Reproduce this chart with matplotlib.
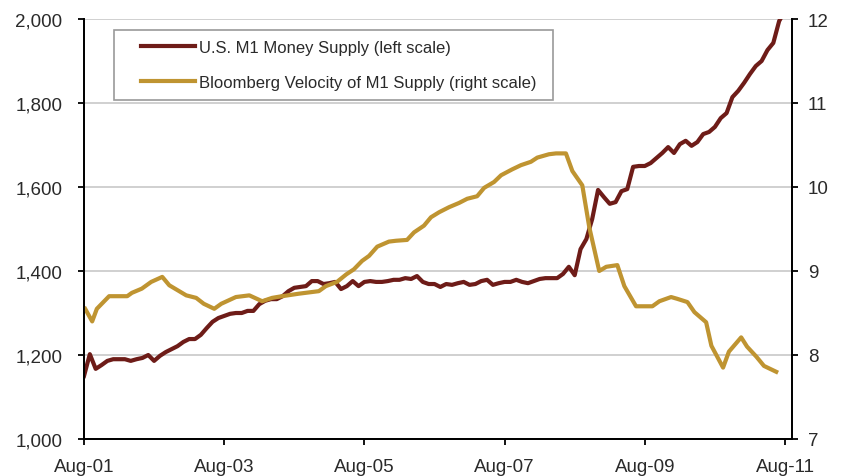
import matplotlib
matplotlib.use("Agg")
import matplotlib.pyplot as plt
import numpy as np
from matplotlib.legend_handler import HandlerLine2D

# months since Aug-01
m1_months = list(range(0, 121))
m1_values = [
    1150, 1202, 1167, 1176, 1186, 1190, 1190, 1190, 1186, 1190,
    1193, 1200, 1186, 1198, 1207, 1214, 1221, 1231, 1238, 1238,
    1248, 1264, 1279, 1288, 1293, 1298, 1300, 1300, 1305, 1305,
    1321, 1329, 1333, 1333, 1340, 1352, 1360, 1362, 1364, 1376,
    1376, 1369, 1371, 1374, 1357, 1364, 1376, 1364, 1374, 1376,
    1374, 1374, 1376, 1379, 1379, 1383, 1381, 1388, 1374, 1369,
    1369, 1362, 1369, 1367, 1371, 1374, 1367, 1369, 1376, 1379,
    1367, 1371, 1374, 1374, 1379, 1374, 1371, 1376, 1381, 1383,
    1383, 1383, 1393, 1410, 1390, 1452, 1476, 1524, 1593, 1576,
    1560, 1564, 1590, 1595, 1648, 1650, 1650, 1657, 1669, 1681,
    1695, 1681, 1702, 1710, 1698, 1707, 1726, 1731, 1743, 1764,
    1776, 1814, 1829, 1848, 1869, 1888, 1900, 1926, 1943, 1995,
    2020,
]

vel_months = [
    0.2, 1.4, 2.2, 4.3, 7.4, 8.2, 9.9, 11.5, 13.4, 14.6,
    17.5, 19.2, 20.5, 22.3, 23.5, 26.0, 28.3, 30.5, 32.2, 33.9,
    36.8, 40.2, 41.4, 43.3, 44.9, 46.2, 47.6, 48.8, 50.2, 52.2,
    53.4, 55.3, 56.5, 58.2, 59.4, 60.8, 62.5, 64.2, 65.6, 67.3,
    68.5, 70.2, 71.4, 73.3, 74.8, 76.5, 77.6, 79.6, 80.8, 82.5,
    83.6, 85.3, 86.5, 88.2, 89.4, 91.3, 92.5, 94.5, 97.3, 98.5,
    100.5, 101.5, 103.3, 104.5, 106.5, 107.4, 109.4, 110.4, 112.5, 113.5,
    115.1, 116.4, 118.5,
]
vel_values = [
    8.55, 8.40, 8.55, 8.70, 8.70, 8.74, 8.79, 8.87, 8.93, 8.83,
    8.71, 8.68, 8.61, 8.55, 8.61, 8.69, 8.71, 8.64, 8.68, 8.70,
    8.73, 8.76, 8.82, 8.87, 8.96, 9.02, 9.12, 9.18, 9.29, 9.35,
    9.36, 9.37, 9.46, 9.54, 9.64, 9.70, 9.76, 9.81, 9.86, 9.89,
    9.99, 10.06, 10.14, 10.21, 10.26, 10.30, 10.35, 10.39, 10.40, 10.40,
    10.19, 10.02, 9.52, 9.00, 9.05, 9.07, 8.82, 8.58, 8.58, 8.64,
    8.69, 8.67, 8.63, 8.51, 8.39, 8.11, 7.85, 8.04, 8.21, 8.10,
    7.98, 7.87, 7.80,
]

xtick_pos = [0, 24, 48, 72, 96, 120]
xtick_labels = ["Aug-01", "Aug-03", "Aug-05", "Aug-07", "Aug-09", "Aug-11"]

RED = "#6e1c18"
GOLD = "#bf9431"
TXT = "#2a2a2a"


class InsetLine(HandlerLine2D):
    # legend swatch drawn only over the right part of the handle box
    def get_xdata(self, legend, xdescent, ydescent, width, height, fontsize):
        xd, xm = super().get_xdata(legend, xdescent, ydescent, width, height, fontsize)
        return np.array([-xdescent + 0.24 * width, -xdescent + width]), xm


plt.rcParams["font.family"] = ["Liberation Sans", "DejaVu Sans"]
plt.rcParams["font.size"] = 13.5

fig = plt.figure(figsize=(8.44, 4.77), dpi=100)
ax = fig.add_axes([84 / 844, 1 - 440 / 477, (792 - 84) / 844, 420 / 477])
ax2 = ax.twinx()

ax.plot(m1_months, m1_values, color=RED, lw=3, solid_joinstyle="round",
        label="U.S. M1 Money Supply (left scale)")
ax2.plot(vel_months, vel_values, color=GOLD, lw=3, solid_joinstyle="round",
         label="Bloomberg Velocity of M1 Supply (right scale)")

ax.set_xlim(0, 121.2)
ax.set_ylim(1000, 2000)
ax2.set_ylim(7, 12)
ax.set_yticks(range(1000, 2001, 200))
ax.set_yticklabels([f"{v:,}" for v in range(1000, 2001, 200)])
ax2.set_yticks(range(7, 13))
ax.set_xticks(xtick_pos)
ax.set_xticklabels(xtick_labels)

ax.grid(axis="y", color="#c8c8c8", lw=1.2)
ax.set_axisbelow(True)
for a in (ax, ax2):
    a.spines["top"].set_visible(False)
    for s in ("left", "right", "bottom"):
        a.spines[s].set_linewidth(1.3)
    a.tick_params(direction="out", length=4.5, width=1.3, colors="black",
                  labelcolor=TXT)
ax.tick_params(axis="y", pad=11)
ax2.tick_params(axis="y", pad=7)
ax.tick_params(axis="x", pad=9)

h1, l1 = ax.get_legend_handles_labels()
h2, l2 = ax2.get_legend_handles_labels()
top = 1 - 11 / 420
leg = ax2.legend(h1 + h2, l1 + l2, loc="upper left",
                 bbox_to_anchor=(30 / 708, top - 0.2, 439 / 708, 0.2),
                 mode="expand",
                 frameon=True, fancybox=False, edgecolor="#808080",
                 fontsize=12, handlelength=4.25, handletextpad=0.25,
                 labelspacing=1.2, borderpad=0.6, borderaxespad=0,
                 handler_map={h: InsetLine() for h in h1 + h2})
leg.get_frame().set_linewidth(1.2)
for t in leg.get_texts():
    t.set_color(TXT)

fig.savefig("out.png", dpi=100)
